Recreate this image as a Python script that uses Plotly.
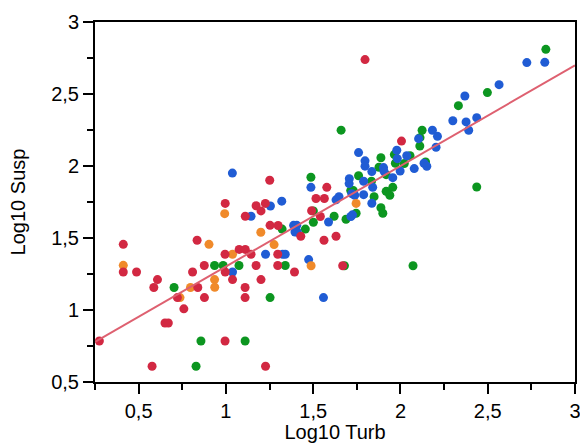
import plotly.graph_objects as go

# Log10 turbidity / log10 suspended solids
red_x = [0.275, 0.412, 0.412, 0.488, 0.608, 0.587, 0.839, 0.809, 0.876, 0.835,
         0.722, 0.877, 0.759, 0.651, 0.670, 0.577, 0.996, 1.173, 1.226, 1.201,
         1.111, 1.253, 1.299, 1.429, 1.491, 1.516, 1.564, 1.541, 1.562, 0.995,
         1.076, 1.111, 1.144, 1.297, 0.996, 1.173, 1.297, 1.393, 1.038, 1.201,
         1.110, 1.110, 0.995, 1.227, 1.251, 1.578, 1.631, 1.669, 2.006, 1.797]
red_y = [0.785, 1.456, 1.264, 1.264, 1.211, 1.156, 1.156, 1.264, 1.309, 1.484,
         1.086, 1.086, 1.008, 0.910, 0.910, 0.609, 1.740, 1.724, 1.740, 1.688,
         1.651, 1.588, 1.587, 1.512, 1.689, 1.774, 1.774, 1.649, 1.484, 1.387,
         1.421, 1.421, 1.387, 1.387, 1.264, 1.309, 1.309, 1.264, 1.211, 1.211,
         1.156, 1.086, 0.785, 0.609, 1.901, 1.852, 1.512, 1.307, 2.173, 2.739]

orange_x = [0.412, 0.737, 0.797, 0.903, 0.935, 0.936, 0.993, 1.038, 1.200, 1.276,
            1.488, 1.746]
orange_y = [1.310, 1.086, 1.156, 1.456, 1.211, 1.158, 1.669, 1.387, 1.540, 1.454,
            1.307, 1.740]

green_x = [0.703, 0.935, 0.984, 1.075, 1.340, 0.857, 0.829, 1.110, 1.253, 1.322,
           1.455, 1.501, 1.501, 1.620, 1.688, 1.746, 1.679, 2.072, 1.487, 1.660,
           1.715, 1.730, 1.760, 1.834, 1.849, 1.888, 1.877, 1.918, 1.918, 1.939,
           1.888, 1.899, 1.965, 1.971, 2.022, 2.055, 2.111, 2.112, 2.124, 2.144,
           2.332, 2.498, 2.833, 2.437, 1.956]
green_y = [1.156, 1.309, 1.309, 1.309, 1.309, 0.785, 0.609, 0.785, 1.086, 1.562,
           1.562, 1.609, 1.688, 1.651, 1.630, 1.672, 1.307, 1.307, 1.922, 2.249,
           1.829, 1.829, 1.932, 1.894, 1.787, 2.057, 1.991, 1.940, 1.824, 1.797,
           1.710, 1.672, 2.079, 2.019, 2.017, 2.072, 2.139, 2.197, 2.248, 2.028,
           2.419, 2.510, 2.810, 1.854, 1.852]

blue_x = [1.037, 1.038, 1.144, 1.255, 1.320, 1.227, 1.325, 1.340, 1.388, 1.406,
          1.396, 1.409, 1.474, 1.559, 1.487, 1.588, 1.631, 1.648, 1.716, 1.725,
          1.707, 1.706, 1.721, 1.738, 1.760, 1.797, 1.797, 1.789, 1.789, 1.836,
          1.841, 1.836, 1.903, 1.906, 1.956, 1.979, 1.982, 1.998, 2.036, 2.079,
          2.104, 2.135, 2.151, 2.183, 2.212, 2.204, 2.300, 2.376, 2.437, 2.391,
          2.369, 2.565, 2.724, 2.827]
blue_y = [1.951, 1.264, 1.651, 1.722, 1.756, 1.387, 1.387, 1.387, 1.588, 1.588,
          1.542, 1.542, 1.350, 1.086, 1.852, 1.611, 1.765, 1.787, 1.649, 1.661,
          1.912, 1.878, 1.808, 1.797, 2.093, 2.036, 1.999, 1.894, 1.801, 1.961,
          1.852, 1.741, 1.989, 1.963, 1.919, 2.109, 2.051, 1.965, 2.071, 1.982,
          2.190, 2.019, 1.998, 2.248, 2.206, 2.130, 2.314, 2.306, 2.335, 2.248,
          2.486, 2.565, 2.718, 2.720]

# regression line ends
fit_x = [0.25, 3.0]
fit_y = [0.778, 2.699]

fig = go.Figure()

for xs, ys, col in [(green_x, green_y, "rgb(12,150,32)"),
                    (blue_x, blue_y, "rgb(32,92,212)"),
                    (orange_x, orange_y, "rgb(240,138,42)"),
                    (red_x, red_y, "rgb(210,40,66)")]:
    fig.add_trace(go.Scatter(x=xs, y=ys, mode="markers",
                             marker=dict(size=9, color=col, line=dict(width=0))))

fig.add_trace(go.Scatter(x=fit_x, y=fit_y, mode="lines",
                         line=dict(color="rgb(222,96,112)", width=2)))

axis_style = dict(
    showline=True, linecolor="black", linewidth=2, mirror=True,
    showgrid=False, zeroline=False, automargin=False,
    ticks="outside", ticklen=10, tickwidth=2, tickcolor="black",
    dtick=0.5, tick0=0.5, ticklabeloverflow="allow",
    minor=dict(dtick=0.25, ticks="outside", ticklen=6, tickwidth=2,
               tickcolor="black", showgrid=False),
    tickfont=dict(size=20, color="black"),
)

fig.update_xaxes(range=[0.25, 3], title=dict(text="Log10 Turb", font=dict(size=20),
                                             standoff=2), **axis_style)
fig.update_yaxes(range=[0.5, 3], title=dict(text="Log10 Susp", font=dict(size=20),
                                            standoff=20), **axis_style)

fig.update_layout(
    width=580, height=443,
    margin=dict(l=95, r=5, t=22, b=61),
    showlegend=False,
    plot_bgcolor="white", paper_bgcolor="white",
    separators=", ",
    font=dict(family="Liberation Sans, Arial, sans-serif", color="black"),
)

# drop the default page margin so the figure sits at the window's corner
fig.write_html("out.html", config={"displayModeBar": False},
               post_script="document.body.style.margin='0';")
